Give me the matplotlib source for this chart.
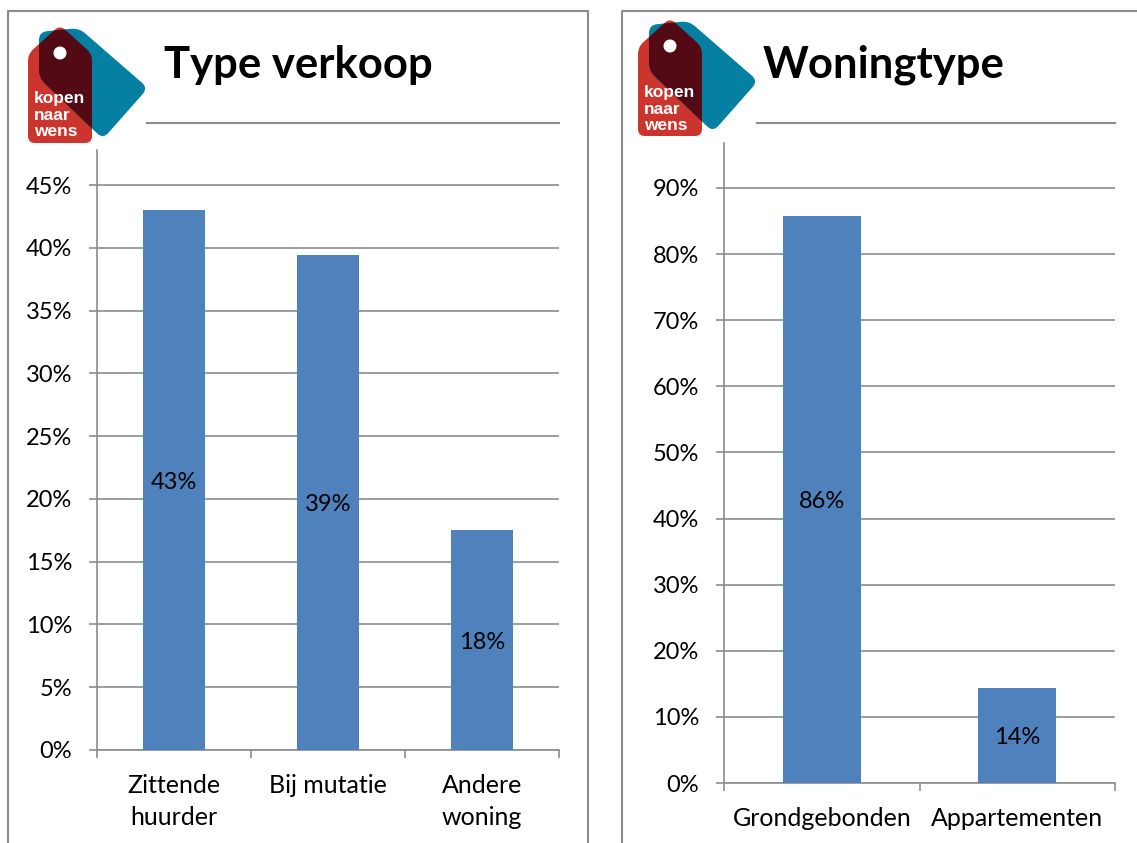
import matplotlib
matplotlib.use('Agg')
import matplotlib.pyplot as plt
from matplotlib.path import Path
from matplotlib.patches import PathPatch, Circle

plt.rcParams['font.family'] = ['Lato', 'DejaVu Sans']

W, H = 1137, 843
GREY = '#8c8c8c'
BAR = '#4f81bd'

# data
verkoop_cat = ['Zittende\nhuurder', 'Bij mutatie', 'Andere\nwoning']
verkoop_val = [43.0, 39.4, 17.5]
verkoop_lab = ['43%', '39%', '18%']
verkoop_ticks = [0, 5, 10, 15, 20, 25, 30, 35, 40, 45]

woning_cat = ['Grondgebonden', 'Appartementen']
woning_val = [85.7, 14.3]
woning_lab = ['86%', '14%']
woning_ticks = [0, 10, 20, 30, 40, 50, 60, 70, 80, 90]

# logo outlines, in pixels
red_tag = [(28, 143), (28, 54), (60, 25), (92, 54), (92, 143)]
blue_tag = [(39, 32), (79, 28), (148, 88), (103, 139), (39, 78)]


def rounded(points, r, dx, dy):
    # polygon with rounded corners
    verts, codes = [], []
    n = len(points)
    for i in range(n):
        x0, y0 = points[i - 1]
        x1, y1 = points[i]
        x2, y2 = points[(i + 1) % n]
        d0 = ((x0 - x1) ** 2 + (y0 - y1) ** 2) ** 0.5
        d2 = ((x2 - x1) ** 2 + (y2 - y1) ** 2) ** 0.5
        a = (x1 + (x0 - x1) * r / d0 + dx, y1 + (y0 - y1) * r / d0 + dy)
        b = (x1 + (x2 - x1) * r / d2 + dx, y1 + (y2 - y1) * r / d2 + dy)
        verts += [a, (x1 + dx, y1 + dy), b]
        codes += [Path.LINETO if i else Path.MOVETO, Path.CURVE3, Path.CURVE3]
    verts.append(verts[0])
    codes.append(Path.CLOSEPOLY)
    return Path(verts, codes)


def logo(bg, dx, dy):
    red = PathPatch(rounded(red_tag, 7, dx, dy), fc='#cc352e', ec='none', zorder=2)
    blue = PathPatch(rounded(blue_tag, 8, dx, dy), fc='#0580a3', ec='none', zorder=3)
    dark = PathPatch(rounded(blue_tag, 8, dx, dy), fc='#530a14', ec='none', zorder=4)
    bg.add_patch(red)
    bg.add_patch(blue)
    bg.add_patch(dark)
    dark.set_clip_path(red)
    bg.add_patch(Circle((60 + dx, 53 + dy), 6.5, fc='white', ec='none', zorder=5))
    for word, y in zip(['kopen', 'naar', 'wens'], [99, 116, 132]):
        bg.text(34 + dx, y + dy, word, color='white', fontsize=12.5, fontweight='bold',
                family='Liberation Sans', va='center', ha='left', zorder=6)


def panel(fig, box, cats, vals, labs, ticks, ymax):
    left, right, top, bottom = box
    ax = fig.add_axes([left / W, 1 - bottom / H, (right - left) / W, (bottom - top) / H])
    ax.patch.set_alpha(0)
    pos = [i + 0.5 for i in range(len(cats))]
    bars = ax.bar(pos, vals, width=0.4, color=BAR, zorder=3)
    for t in ax.bar_label(bars, labels=labs, label_type='center', fontsize=17, color='black', zorder=4):
        t.set_va('center_baseline')
    ax.set_xlim(0, len(cats))
    ax.set_ylim(0, ymax)
    ax.set_yticks(ticks)
    ax.set_yticklabels([f'{t}%' for t in ticks], fontsize=17)
    ax.set_xticks(range(len(cats) + 1))
    ax.set_xticklabels([])
    ax.set_xticks(pos, minor=True)
    ax.set_xticklabels(cats, minor=True, fontsize=18, linespacing=1.46)
    ax.tick_params(axis='x', which='minor', length=0, pad=17.5)
    ax.tick_params(axis='both', which='major', length=5.8, width=1.2, color=GREY, pad=12)
    ax.grid(axis='y', color=GREY, linewidth=1.2, zorder=0)
    ax.set_axisbelow(True)
    for s in ['top', 'right']:
        ax.spines[s].set_visible(False)
    for s in ['left', 'bottom']:
        ax.spines[s].set_color(GREY)
        ax.spines[s].set_linewidth(1.2)
    return ax


fig = plt.figure(figsize=(W / 100, H / 100), dpi=100, facecolor='white')

# achtergrondlaag in pixels: kaders, logo's, titels
bg = fig.add_axes([0, 0, 1, 1])
bg.set_xlim(0, W)
bg.set_ylim(H, 0)
bg.axis('off')

bg.plot([8, 8, 588, 588], [H, 11, 11, H], color=GREY, lw=1.5)
bg.plot([622, 622, W], [H, 11, 11], color=GREY, lw=1.5)
bg.plot([147, 559], [122.5, 122.5], color=GREY, lw=1.5)
bg.plot([757, 1115], [122.5, 122.5], color=GREY, lw=1.5)

logo(bg, 0, 0)
logo(bg, 610, -7)

bg.text(164, 65, 'Type verkoop', fontsize=31.4, fontweight='bold', va='center', ha='left')
bg.text(763, 65, 'Woningtype', fontsize=31.4, fontweight='bold', va='center', ha='left')

panel(fig, (97, 559, 150, 750), verkoop_cat, verkoop_val, verkoop_lab, verkoop_ticks, 47.8)
panel(fig, (724, 1115, 143, 783), woning_cat, woning_val, woning_lab, woning_ticks, 96.8)

fig.savefig('out.png', dpi=100)
